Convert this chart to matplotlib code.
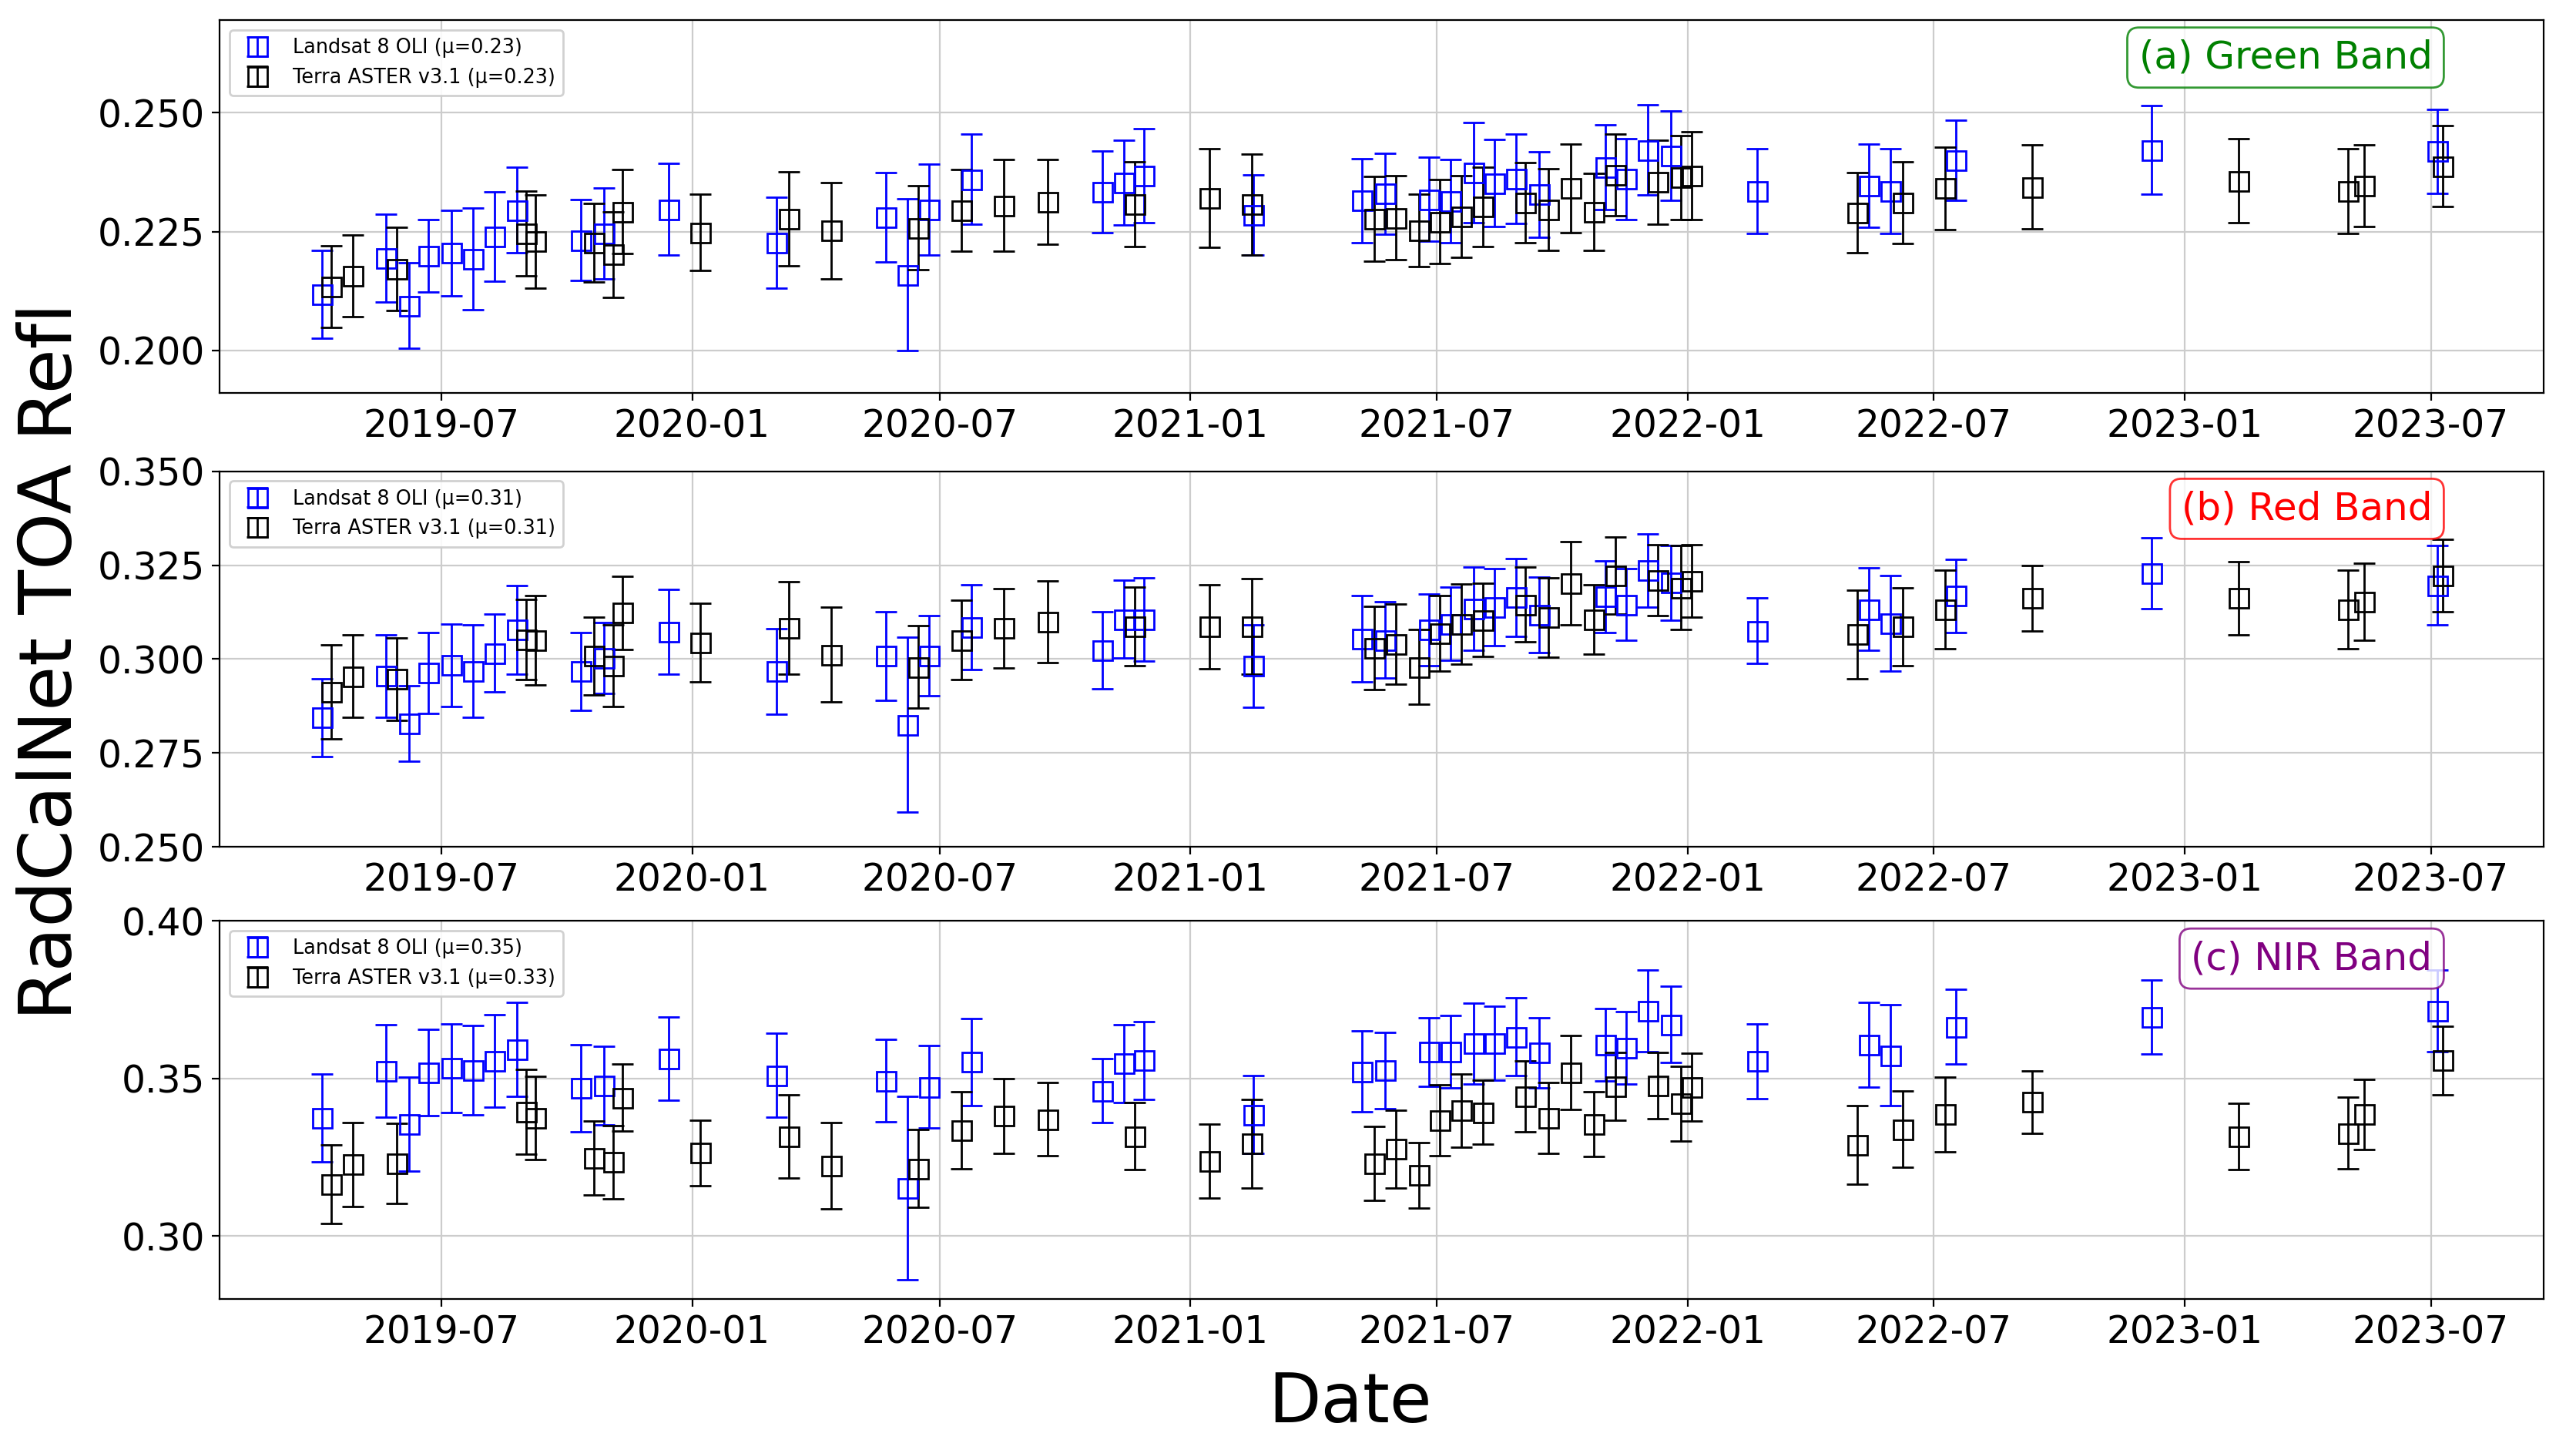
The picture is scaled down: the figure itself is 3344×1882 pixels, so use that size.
import numpy as np
import pandas as pd
import matplotlib
matplotlib.use("Agg")
import matplotlib.pyplot as plt
import matplotlib.dates as mdates

# acquisition dates
landsat_dates = pd.to_datetime([
    "2019-04-04", "2019-05-21", "2019-06-07", "2019-06-21", "2019-07-08", "2019-07-24",
    "2019-08-09", "2019-08-25", "2019-10-11", "2019-10-28", "2019-12-15", "2020-03-03",
    "2020-05-22", "2020-06-07", "2020-06-23", "2020-07-24", "2020-10-28", "2020-11-13",
    "2020-11-28", "2021-02-16", "2021-05-07", "2021-05-24", "2021-06-25", "2021-07-11",
    "2021-07-28", "2021-08-12", "2021-08-28", "2021-09-14", "2021-11-02", "2021-11-17",
    "2021-12-03", "2021-12-20", "2022-02-21", "2022-05-14", "2022-05-30", "2022-07-17",
    "2022-12-08", "2023-07-06"])
aster_dates = pd.to_datetime([
    "2019-04-11", "2019-04-27", "2019-05-29", "2019-09-01", "2019-09-08", "2019-10-21",
    "2019-11-04", "2019-11-11", "2020-01-07", "2020-03-12", "2020-04-12", "2020-06-15",
    "2020-07-17", "2020-08-17", "2020-09-18", "2020-11-21", "2021-01-15", "2021-02-15",
    "2021-05-16", "2021-06-01", "2021-06-18", "2021-07-03", "2021-07-19", "2021-08-04",
    "2021-09-04", "2021-09-21", "2021-10-07", "2021-10-24", "2021-11-09", "2021-12-10",
    "2021-12-27", "2022-01-04", "2022-05-06", "2022-06-08", "2022-07-09", "2022-09-11",
    "2023-02-10", "2023-05-01", "2023-05-13", "2023-07-10"])

# Green band
green_l8 = [0.2118, 0.2194, 0.2094, 0.2199, 0.2205, 0.2193, 0.2239, 0.2295, 0.2232, 0.2246,
            0.2297, 0.2227, 0.2280, 0.2159, 0.2296, 0.2360, 0.2333, 0.2353, 0.2367, 0.2285,
            0.2315, 0.2330, 0.2318, 0.2314, 0.2374, 0.2352, 0.2361, 0.2328, 0.2386, 0.2361,
            0.2422, 0.2410, 0.2335, 0.2347, 0.2335, 0.2400, 0.2422, 0.2419]
green_l8_err = [0.0092, 0.0093, 0.0090, 0.0077, 0.0090, 0.0107, 0.0094, 0.0090, 0.0085, 0.0095,
                0.0096, 0.0096, 0.0094, 0.0160, 0.0096, 0.0095, 0.0086, 0.0089, 0.0099, 0.0084,
                0.0088, 0.0085, 0.0088, 0.0088, 0.0105, 0.0092, 0.0094, 0.0090, 0.0089, 0.0085,
                0.0095, 0.0094, 0.0089, 0.0088, 0.0089, 0.0085, 0.0093, 0.0089]
green_ast = [0.2134, 0.2156, 0.2171, 0.2246, 0.2229, 0.2227, 0.2202, 0.2292, 0.2248, 0.2277,
             0.2252, 0.2258, 0.2294, 0.2305, 0.2313, 0.2308, 0.2321, 0.2307, 0.2277, 0.2279,
             0.2252, 0.2271, 0.2282, 0.2302, 0.2311, 0.2296, 0.2341, 0.2292, 0.2370, 0.2354,
             0.2364, 0.2368, 0.2290, 0.2311, 0.2341, 0.2344, 0.2357, 0.2335, 0.2347, 0.2388]
green_ast_err = [0.0086, 0.0086, 0.0088, 0.0090, 0.0098, 0.0083, 0.0090, 0.0089, 0.0080, 0.0099,
                 0.0101, 0.0089, 0.0086, 0.0097, 0.0089, 0.0089, 0.0104, 0.0106, 0.0089, 0.0088,
                 0.0076, 0.0088, 0.0086, 0.0083, 0.0085, 0.0086, 0.0094, 0.0081, 0.0086, 0.0088,
                 0.0088, 0.0092, 0.0085, 0.0086, 0.0087, 0.0088, 0.0088, 0.0089, 0.0086, 0.0086]

# Red band
red_l8 = [0.2844, 0.2955, 0.2828, 0.2963, 0.2984, 0.2967, 0.3016, 0.3078, 0.2967, 0.3003,
          0.3073, 0.2967, 0.3008, 0.2825, 0.3009, 0.3085, 0.3023, 0.3106, 0.3106, 0.2982,
          0.3054, 0.3051, 0.3078, 0.3094, 0.3134, 0.3138, 0.3164, 0.3118, 0.3166, 0.3145,
          0.3236, 0.3203, 0.3075, 0.3133, 0.3095, 0.3168, 0.3229, 0.3196]
red_l8_err = [0.0104, 0.0110, 0.0101, 0.0108, 0.0110, 0.0123, 0.0104, 0.0118, 0.0104, 0.0095,
              0.0113, 0.0113, 0.0118, 0.0233, 0.0107, 0.0113, 0.0102, 0.0103, 0.0111, 0.0110,
              0.0115, 0.0101, 0.0096, 0.0098, 0.0110, 0.0102, 0.0103, 0.0100, 0.0095, 0.0095,
              0.0097, 0.0099, 0.0087, 0.0109, 0.0128, 0.0098, 0.0094, 0.0106]
red_ast = [0.2913, 0.2954, 0.2947, 0.3052, 0.3051, 0.3008, 0.2982, 0.3123, 0.3044, 0.3082,
           0.3012, 0.2979, 0.3051, 0.3082, 0.3099, 0.3087, 0.3086, 0.3087, 0.3029, 0.3040,
           0.2979, 0.3068, 0.3093, 0.3104, 0.3145, 0.3111, 0.3201, 0.3106, 0.3222, 0.3210,
           0.3190, 0.3208, 0.3066, 0.3086, 0.3132, 0.3162, 0.3162, 0.3132, 0.3152, 0.3222]
red_ast_err = [0.0125, 0.0110, 0.0110, 0.0106, 0.0119, 0.0104, 0.0109, 0.0098, 0.0104, 0.0123,
               0.0127, 0.0110, 0.0106, 0.0106, 0.0108, 0.0104, 0.0111, 0.0127, 0.0111, 0.0107,
               0.0099, 0.0101, 0.0106, 0.0098, 0.0099, 0.0106, 0.0111, 0.0092, 0.0102, 0.0095,
               0.0112, 0.0097, 0.0118, 0.0104, 0.0105, 0.0087, 0.0098, 0.0105, 0.0103, 0.0097]

# NIR band
nir_l8 = [0.3375, 0.3524, 0.3355, 0.3518, 0.3533, 0.3526, 0.3555, 0.3592, 0.3469, 0.3477,
          0.3563, 0.3510, 0.3493, 0.3153, 0.3473, 0.3552, 0.3461, 0.3547, 0.3557, 0.3385,
          0.3522, 0.3526, 0.3584, 0.3584, 0.3611, 0.3612, 0.3632, 0.3582, 0.3607, 0.3598,
          0.3715, 0.3671, 0.3555, 0.3607, 0.3573, 0.3664, 0.3695, 0.3715]
nir_l8_err = [0.0139, 0.0146, 0.0150, 0.0137, 0.0141, 0.0141, 0.0146, 0.0148, 0.0139, 0.0124,
              0.0131, 0.0134, 0.0130, 0.0291, 0.0131, 0.0137, 0.0102, 0.0124, 0.0123, 0.0123,
              0.0128, 0.0121, 0.0109, 0.0115, 0.0128, 0.0118, 0.0124, 0.0111, 0.0114, 0.0115,
              0.0130, 0.0121, 0.0119, 0.0134, 0.0160, 0.0119, 0.0117, 0.0130]
nir_ast = [0.3164, 0.3227, 0.3231, 0.3395, 0.3375, 0.3248, 0.3235, 0.3439, 0.3264, 0.3316,
           0.3223, 0.3214, 0.3336, 0.3381, 0.3371, 0.3317, 0.3238, 0.3293, 0.3231, 0.3276,
           0.3193, 0.3368, 0.3399, 0.3393, 0.3444, 0.3375, 0.3518, 0.3355, 0.3475, 0.3477,
           0.3420, 0.3473, 0.3289, 0.3339, 0.3386, 0.3425, 0.3316, 0.3327, 0.3386, 0.3557]
nir_ast_err = [0.0125, 0.0132, 0.0127, 0.0134, 0.0132, 0.0117, 0.0116, 0.0106, 0.0104, 0.0133,
               0.0136, 0.0123, 0.0122, 0.0118, 0.0116, 0.0107, 0.0118, 0.0141, 0.0118, 0.0123,
               0.0104, 0.0113, 0.0116, 0.0102, 0.0112, 0.0112, 0.0117, 0.0102, 0.0108, 0.0105,
               0.0118, 0.0108, 0.0125, 0.0121, 0.0119, 0.0098, 0.0104, 0.0114, 0.0112, 0.0109]

panels = [
    ("(a) Green Band", "green", green_l8, green_l8_err, green_ast, green_ast_err,
     (0.191, 0.2695), [0.200, 0.225, 0.250], "{:.3f}", "0.23", "0.23"),
    ("(b) Red Band", "red", red_l8, red_l8_err, red_ast, red_ast_err,
     (0.250, 0.350), [0.250, 0.275, 0.300, 0.325, 0.350], "{:.3f}", "0.31", "0.31"),
    ("(c) NIR Band", "purple", nir_l8, nir_l8_err, nir_ast, nir_ast_err,
     (0.280, 0.400), [0.30, 0.35, 0.40], "{:.2f}", "0.35", "0.33"),
]

fig = plt.figure(figsize=(16.72, 9.41), dpi=200)
boxes = [[0.0853, 0.729, 0.9022, 0.257],
         [0.0853, 0.416, 0.9022, 0.259],
         [0.0853, 0.104, 0.9022, 0.261]]

xticks = pd.date_range("2019-07-01", "2023-07-01", freq="6MS")

for box, (label, col, l8, l8e, ast, aste, ylim, yt, fmt, mu_l8, mu_ast) in zip(boxes, panels):
    ax = fig.add_axes(box)
    ax.errorbar(landsat_dates, l8, yerr=l8e, fmt='s', color='blue', mfc='none',
                markersize=9, capsize=5, elinewidth=1, markeredgewidth=1,
                label=f"Landsat 8 OLI (\u03bc={mu_l8})")
    ax.errorbar(aster_dates, ast, yerr=aste, fmt='s', color='black', mfc='none',
                markersize=9, capsize=5, elinewidth=1, markeredgewidth=1,
                label=f"Terra ASTER v3.1 (\u03bc={mu_ast})")
    ax.set_xlim(pd.Timestamp("2019-01-19"), pd.Timestamp("2023-09-22"))
    ax.set_ylim(*ylim)
    ax.set_yticks(yt)
    ax.set_yticklabels([fmt.format(v) for v in yt], fontsize=17.5)
    ax.set_xticks(xticks)
    ax.xaxis.set_major_formatter(mdates.DateFormatter('%Y-%m'))
    ax.tick_params(axis='x', labelsize=17.5)
    ax.grid(True, color='#cccccc', linewidth=0.8)
    ax.legend(loc='upper left', fontsize=9.2, framealpha=0.9)
    ax.text(0.952, 0.9, label, transform=ax.transAxes, ha='right', va='center',
            fontsize=18, color=col,
            bbox=dict(boxstyle='round,pad=0.3', fc='white', ec=col, alpha=0.8))

fig.text(0.524, 0.032, "Date", ha='center', va='center', fontsize=32)
fig.text(0.02, 0.544, "RadCalNet TOA Refl", ha='center', va='center', fontsize=34,
         rotation=90)

plt.savefig("out.png", dpi=200)
plt.close()
